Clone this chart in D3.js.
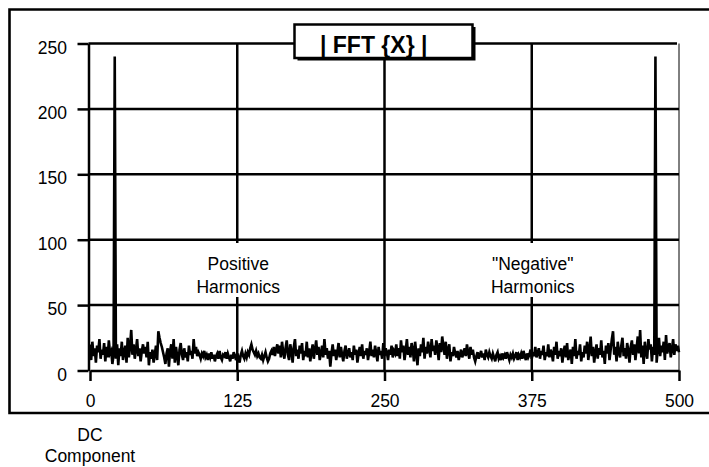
<!DOCTYPE html>
<html>
<head>
<meta charset="utf-8">
<script src="https://cdn.jsdelivr.net/npm/d3@7"></script>
<style>
  body { margin: 0; background: #fff; }
  svg { display: block; font-family: "Liberation Sans", Arial, Helvetica, sans-serif; }
</style>
</head>
<body>
<svg id="chart" width="709" height="467"></svg>
<script>
// |FFT{X}| magnitude per bin (bins 0..500)
const magnitude = [
  20, 8, 22, 11, 17, 6, 19, 14, 24, 9, 16, 12, 21, 7, 18, 10, 23, 13, 15, 5,
  12, 240, 9, 20, 4, 17, 11, 22, 8, 14, 19, 6, 25, 10, 18, 31, 12, 20, 9, 16,
  24, 11, 17, 7, 15, 20, 13, 18, 10, 22, 4, 14, 9, 16, 6, 12, 19, 8, 30, 25,
  21, 18, 14, 10, 5, 13, 17, 3, 15, 20, 9, 24, 6, 18, 11, 4, 16, 21, 12, 8,
  17, 10, 14, 7, 19, 12, 15, 9, 24, 13, 18, 11, 14, 12, 9, 13, 11, 15, 10, 12,
  8, 13, 10, 14, 9, 12, 7, 11, 13, 9, 15, 10, 8, 12, 11, 14, 9, 13, 10, 7,
  12, 9, 14, 11, 8, 13, 10, 6, 12, 15, 11, 9, 13, 10, 14, 12, 17, 20, 16, 14,
  12, 15, 11, 13, 10, 9, 12, 8, 11, 14, 10, 7, 9, 13, 15, 12, 18, 11, 16, 20,
  13, 19, 10, 22, 14, 9, 17, 23, 12, 8, 20, 15, 6, 18, 24, 11, 16, 9, 19, 13,
  21, 8, 15, 11, 22, 10, 17, 7, 14, 20, 9, 16, 23, 12, 18, 8, 13, 19, 10, 24,
  12, 17, 9, 15, 3, 13, 20, 11, 16, 8, 14, 21, 10, 18, 12, 7, 15, 19, 9, 13,
  17, 10, 14, 8, 19, 12, 16, 6, 13, 18, 11, 20, 9, 15, 12, 17, 8, 14, 22, 11,
  16, 10, 19, 13, 7, 18, 12, 15, 9, 21, 11, 17, 14, 8, 16, 12, 19, 10, 15, 13,
  20, 11, 17, 9, 23, 14, 19, 8, 15, 24, 12, 18, 10, 21, 16, 7, 22, 13, 4, 17,
  11, 20, 14, 25, 9, 18, 13, 22, 16, 10, 24, 15, 19, 12, 23, 17, 8, 21, 14, 26,
  18, 12, 22, 9, 16, 20, 7, 14, 11, 18, 13, 10, 15, 8, 12, 16, 10, 13, 17, 11,
  20, 14, 9, 18, 12, 16, 10, 7, 11, 14, 9, 12, 15, 10, 13, 8, 16, 12, 10, 14,
  11, 9, 13, 10, 7, 12, 14, 9, 11, 8, 13, 10, 12, 9, 14, 11, 8, 12, 10, 13,
  9, 11, 14, 8, 12, 10, 13, 9, 15, 11, 8, 13, 10, 12, 16, 9, 14, 11, 18, 10,
  13, 17, 9, 15, 12, 19, 8, 14, 11, 20, 10, 16, 13, 7, 18, 12, 22, 9, 15, 11,
  17, 6, 14, 19, 10, 21, 8, 13, 16, 5, 18, 11, 24, 9, 15, 12, 20, 7, 14, 10,
  19, 13, 22, 8, 16, 26, 11, 18, 6, 14, 20, 9, 17, 12, 23, 10, 15, 5, 19, 13,
  21, 8, 16, 24, 30, 12, 18, 7, 22, 14, 10, 19, 25, 11, 17, 9, 21, 15, 6, 18,
  23, 12, 20, 8, 17, 26, 13, 31, 10, 19, 5, 22, 14, 9, 24, 16, 20, 7, 18, 12,
  240, 6, 17, 25, 11, 19, 14, 22, 8, 27, 13, 18, 21, 10, 16, 24, 12, 20, 15, 19,
  14
];
const xTicks = [0, 125, 250, 375, 500];
const yTicks = [0, 50, 100, 150, 200, 250];
const xGrid = [125, 250, 375];
const yGrid = [50, 100, 150, 200, 250];
const titleText = "| FFT {X} |";
const notes = [
  { at: 125, lines: ["Positive", "Harmonics"] },
  { at: 375, lines: ["\"Negative\"", "Harmonics"] }
];
const footLines = ["DC", "Component"];

/*---------- size ----------*/
const plot = { l: 90, r: 679, t: 43.5, b: 370.5 };
const axisX = 88.5;
const fs = 17.5;

const svg = d3.select("#chart");

const x = d3.scaleLinear().domain([0, 500]).range([plot.l, plot.r]);
const y = d3.scaleLinear().domain([0, 250]).range([plot.b, plot.t]);

//outer frame (right side runs off the page)
svg.append("path")
  .attr("d", `M720,9.5 H9.5 V413 H720`)
  .attr("fill", "none")
  .attr("stroke", "#000")
  .attr("stroke-width", 2.6);

//thin right edge of the plot
svg.append("line")
  .attr("x1", plot.r).attr("x2", plot.r)
  .attr("y1", plot.t).attr("y2", plot.b)
  .attr("stroke", "#000").attr("stroke-width", 1);

//grid
svg.append("g").selectAll("line").data(yGrid).enter().append("line")
  .attr("x1", axisX).attr("x2", (d) => (d === 250 ? plot.r - 2 : plot.r))
  .attr("y1", (d) => y(d)).attr("y2", (d) => y(d))
  .attr("stroke", "#000").attr("stroke-width", 2.5);

svg.append("g").selectAll("line").data(xGrid).enter().append("line")
  .attr("x1", (d) => x(d)).attr("x2", (d) => x(d))
  .attr("y1", plot.t).attr("y2", plot.b)
  .attr("stroke", "#000").attr("stroke-width", 2.5);

//axes
const yAxis = svg.append("g")
  .attr("transform", `translate(${axisX},0)`)
  .call(d3.axisLeft(y).tickValues(yTicks).tickSize(11).tickSizeOuter(0).tickPadding(10.5));

const xAxis = svg.append("g")
  .attr("transform", `translate(0,${plot.b})`)
  .call(d3.axisBottom(x).tickValues(xTicks).tickSize(10.5).tickSizeOuter(0));

[yAxis, xAxis].forEach((g) => {
  g.attr("font-family", null).attr("font-size", null);
  g.select(".domain").attr("stroke-width", 2.5);
  g.selectAll(".tick line").attr("stroke-width", 2.5);
  g.selectAll("text").attr("fill", "#000").style("font-size", fs + "px");
});
yAxis.selectAll("text").attr("dy", "0.55em");
xAxis.selectAll("text").attr("y", 36.5).attr("dy", 0);

//annotations with white backing
notes.forEach((n) => {
  const cx = x(n.at);
  svg.append("rect")
    .attr("x", cx - 46).attr("y", 243)
    .attr("width", 92).attr("height", 54)
    .attr("fill", "#fff");
  svg.append("text")
    .attr("text-anchor", "middle")
    .style("font-size", fs + "px")
    .selectAll("tspan").data(n.lines).enter().append("tspan")
    .attr("x", cx + 1)
    .attr("y", (d, i) => 270 + i * 23)
    .text((d) => d);
});

//series
const line = d3.line()
  .x((d, i) => x(i))
  .y((d) => y(d));

svg.append("path")
  .datum(magnitude)
  .attr("d", line)
  .attr("fill", "none")
  .attr("stroke", "#000")
  .attr("stroke-width", 2.6)
  .attr("stroke-linejoin", "miter");

//title box with drop shadow
svg.append("rect")
  .attr("x", 297.5).attr("y", 27)
  .attr("width", 178).attr("height", 33.5)
  .attr("fill", "#000");
svg.append("rect")
  .attr("x", 294.5).attr("y", 24.5)
  .attr("width", 178).attr("height", 33.5)
  .attr("fill", "#fff")
  .attr("stroke", "#000")
  .attr("stroke-width", 2.5);
svg.append("text")
  .attr("x", 320).attr("y", 53)
  .style("font-size", "23px")
  .style("font-weight", "bold")
  .text(titleText);

//footnote under the 0 tick
svg.append("text")
  .attr("text-anchor", "middle")
  .style("font-size", fs + "px")
  .selectAll("tspan").data(footLines).enter().append("tspan")
  .attr("x", x(0))
  .attr("y", (d, i) => 441 + i * 21)
  .text((d) => d);
</script>
</body>
</html>
